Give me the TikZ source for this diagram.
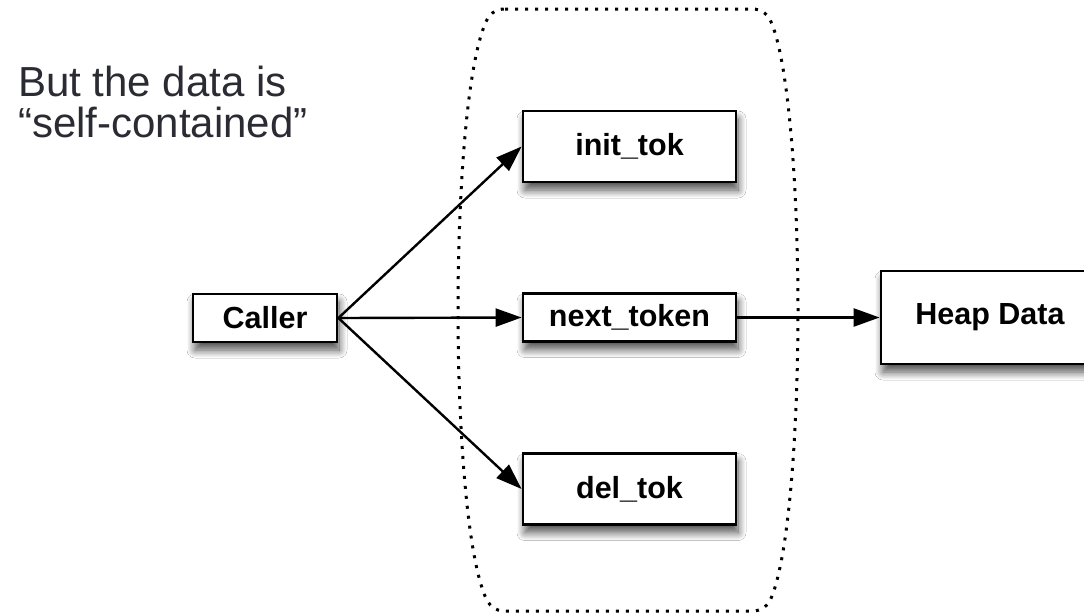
\documentclass[tikz,border=0pt]{standalone}
\usepackage{fontspec}
\setmainfont{Liberation Sans}
\usetikzlibrary{arrows.meta,shadows.blur}
\definecolor{headgray}{HTML}{2B2B33}
\tikzset{
  box/.style={draw=black, line width=2.8pt, fill=white, inner sep=0pt,
    font=\fontsize{30.5}{36}\selectfont\bfseries,
    blur shadow={shadow xshift=2pt, shadow yshift=-8pt, shadow blur radius=8pt, shadow blur steps=14, shadow opacity=70}},
  conn/.style={line width=2.4pt, -{Triangle[length=26pt,width=18pt]}},
  head/.style={anchor=base west, inner sep=0pt, text=headgray, font=\fontsize{42}{44}\selectfont},
  dotline/.style={line width=3pt, dash pattern=on 3pt off 7pt}
}
\begin{document}
\begin{tikzpicture}[x=1pt,y=-1pt]
\clip (0,0) rectangle (1084,614);
\fill[white] (0,0) rectangle (1084,614);
% dotted enclosure
\draw[dotline] (505,9) -- (752,9) .. controls (762,9) and (768,14) .. (772,24)
  .. controls (790,70) and (798,200) .. (798,310)
  .. controls (798,420) and (790,550) .. (772,596)
  .. controls (768,606) and (762,611) .. (752,611) -- (505,611)
  .. controls (495,611) and (489,606) .. (485,596)
  .. controls (466,550) and (458,420) .. (458,310)
  .. controls (458,200) and (466,70) .. (485,24)
  .. controls (489,14) and (495,9) .. (505,9) -- cycle;
% heading
\node[head] (h1) at (18,96) {But the data is};
\node[head] (h2) at (18,137) {“self-contained”};
% boxes
\node[box, minimum width=144pt, minimum height=48pt] (caller) at (265,318) {Caller};
\node[box, minimum width=213pt, minimum height=71pt] (init) at (629.5,146.5) {init\_tok};
\node[box, minimum width=213pt, minimum height=48pt] (next) at (629.5,317.5) {next\_token};
\node[box, minimum width=213pt, minimum height=71pt] (del) at (629.5,489) {del\_tok};
\node[box, minimum width=218pt, minimum height=93pt] (heap) at (990,317.5) {Heap Data};
% connectors
\draw[conn] (caller.east) -- (init.west);
\draw[conn] (caller.east) -- (next.west);
\draw[conn] (caller.east) -- (del.west);
\draw[conn] (next.east) -- (heap.west);
\end{tikzpicture}
\end{document}
